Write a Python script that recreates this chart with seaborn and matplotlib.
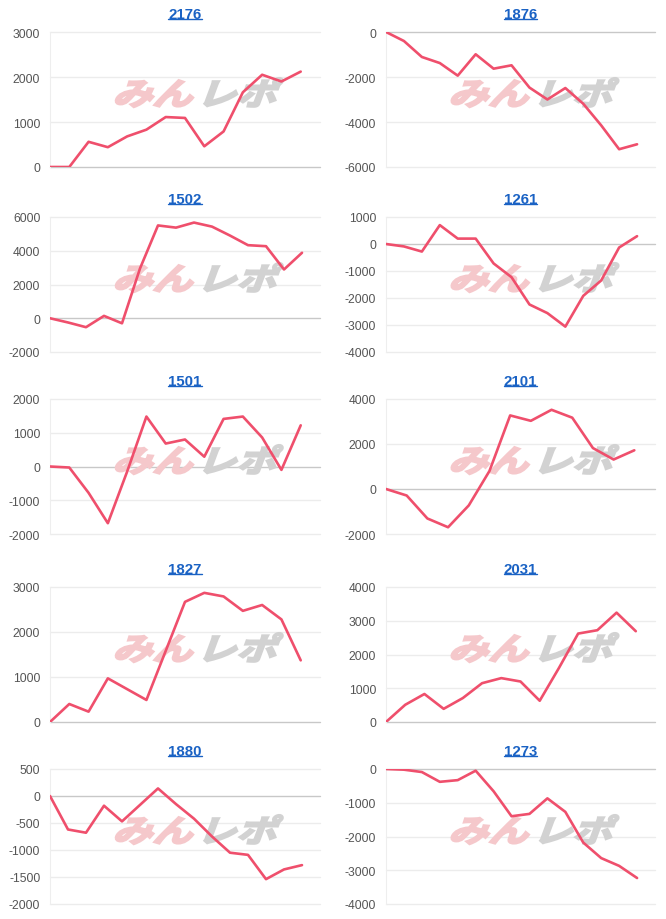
import numpy as np
import pandas as pd
import seaborn as sns
import matplotlib.pyplot as plt
import matplotlib.transforms as mtransforms
from matplotlib.lines import Line2D
from matplotlib.textpath import TextPath
from matplotlib.patches import PathPatch
from matplotlib.font_manager import FontProperties

# cumulative result per code (one point per period)
codes = ['2176', '1876', '1502', '1261', '1501', '2101', '1827', '2031', '1880', '1273']

s2176 = [0, 0, 560, 440, 680, 830, 1110, 1090, 460, 790, 1660, 2050, 1900, 2120]
s1876 = [0, -400, -1110, -1380, -1940, -990, -1630, -1480, -2470, -3000, -2490, -3190, -4150, -5210, -4990]
s1502 = [0, -250, -530, 140, -300, 2950, 5500, 5370, 5670, 5430, 4900, 4330, 4270, 2890, 3880]
s1261 = [0, -90, -280, 700, 200, 200, -720, -1230, -2240, -2560, -3060, -1920, -1350, -130, 290]
s1501 = [0, -30, -780, -1680, -150, 1480, 680, 800, 290, 1410, 1480, 860, -100, 1220]
s2101 = [0, -290, -1310, -1700, -730, 800, 3270, 3030, 3520, 3170, 1820, 1310, 1720]
s1827 = [0, 400, 230, 970, 730, 490, 1580, 2670, 2870, 2790, 2470, 2600, 2280, 1370]
s2031 = [0, 510, 830, 390, 710, 1150, 1300, 1200, 630, 1600, 2620, 2720, 3240, 2690]
s1880 = [0, -620, -680, -180, -470, -165, 140, -150, -420, -750, -1050, -1090, -1540, -1360, -1280]
s1273 = [0, -20, -90, -380, -330, -50, -660, -1400, -1330, -870, -1270, -2180, -2640, -2870, -3230]
series = [s2176, s1876, s1502, s1261, s1501, s2101, s1827, s2031, s1880, s1273]

t2176 = [0, 1000, 2000, 3000]
t1876 = [-6000, -4000, -2000, 0]
t1502 = [-2000, 0, 2000, 4000, 6000]
t1261 = [-4000, -3000, -2000, -1000, 0, 1000]
t1501 = [-2000, -1000, 0, 1000, 2000]
t2101 = [-2000, 0, 2000, 4000]
t1827 = [0, 1000, 2000, 3000]
t2031 = [0, 1000, 2000, 3000, 4000]
t1880 = [-2000, -1500, -1000, -500, 0, 500]
t1273 = [-4000, -3000, -2000, -1000, 0]
yticks = [t2176, t1876, t1502, t1261, t1501, t2101, t1827, t2031, t1880, t1273]

line_color = '#ef4f6c'
title_color = '#1a62c4'

sns.set_style('white')
plt.rcParams['font.family'] = ['Liberation Sans', 'DejaVu Sans']

W, H = 666, 920
fig = plt.figure(figsize=(W / 100, H / 100), dpi=100)

col_x = [50, 386]
col_w = [270, 269]
row_top = [33, 218, 400, 588, 770]
ax_h = 135

wm_prop = FontProperties(family='Noto Sans CJK JP', weight='bold')
wm_a = TextPath((0, 0), 'みん', size=1, prop=wm_prop)
wm_b = TextPath((2.1, 0), 'レポ', size=1, prop=wm_prop)

titles = []
for i, (code, vals, ticks) in enumerate(zip(codes, series, yticks)):
    r, c = divmod(i, 2)
    ax = fig.add_axes([col_x[c] / W, 1 - (row_top[r] + ax_h) / H, col_w[c] / W, ax_h / H])
    df = pd.DataFrame({'period': np.arange(len(vals)), 'value': vals})

    # watermark logo behind the line
    base = (mtransforms.Affine2D().skew_deg(16, 0).scale(40, 31)
            + mtransforms.ScaledTranslation(0.23, 0.46, ax.transAxes))
    ax.add_patch(PathPatch(wm_a, transform=base, facecolor='#f5c8cb', edgecolor='#f5c8cb',
                           linewidth=1.6, zorder=1))
    ax.add_patch(PathPatch(wm_b, transform=base, facecolor='#d2d2d2', edgecolor='#d2d2d2',
                           linewidth=1.6, zorder=1))

    sns.lineplot(data=df, x='period', y='value', ax=ax, color=line_color, linewidth=1.9, zorder=3)

    ax.set_xlim(0, len(vals))
    ax.set_ylim(ticks[0], ticks[-1])
    ax.set_yticks(ticks)
    ax.set_yticklabels([str(t) for t in ticks])
    ax.set_xticks([])
    ax.set_xlabel('')
    ax.set_ylabel('')
    ax.tick_params(axis='y', length=0, pad=7, labelsize=8.7, labelcolor='#555555')
    for t in ticks:
        ax.axhline(t, color='#c8c8c8' if t == 0 else '#ececec', linewidth=1.0,
                   zorder=0, clip_on=False)
    for side in ['top', 'right', 'bottom']:
        ax.spines[side].set_visible(False)
    ax.spines['left'].set_color('#eeeeee')
    ax.spines['left'].set_linewidth(0.8)

    ttl = ax.annotate(code, xy=(0.5, 1), xycoords='axes fraction', xytext=(0, 13),
                      textcoords='offset points', ha='center', va='center',
                      fontsize=10.8, fontweight='bold', color=title_color)
    titles.append(ttl)

# underline titles like links
fig.canvas.draw()
renderer = fig.canvas.get_renderer()
inv = fig.transFigure.inverted()
for ttl in titles:
    bb = ttl.get_window_extent(renderer)
    (x0, y0), (x1, _) = inv.transform([(bb.x0, bb.y0 + 1.5), (bb.x1, bb.y0 + 1.5)])
    fig.add_artist(Line2D([x0, x1], [y0, y0], transform=fig.transFigure,
                          color=title_color, linewidth=1.0))

fig.savefig('out.png', dpi=100)
